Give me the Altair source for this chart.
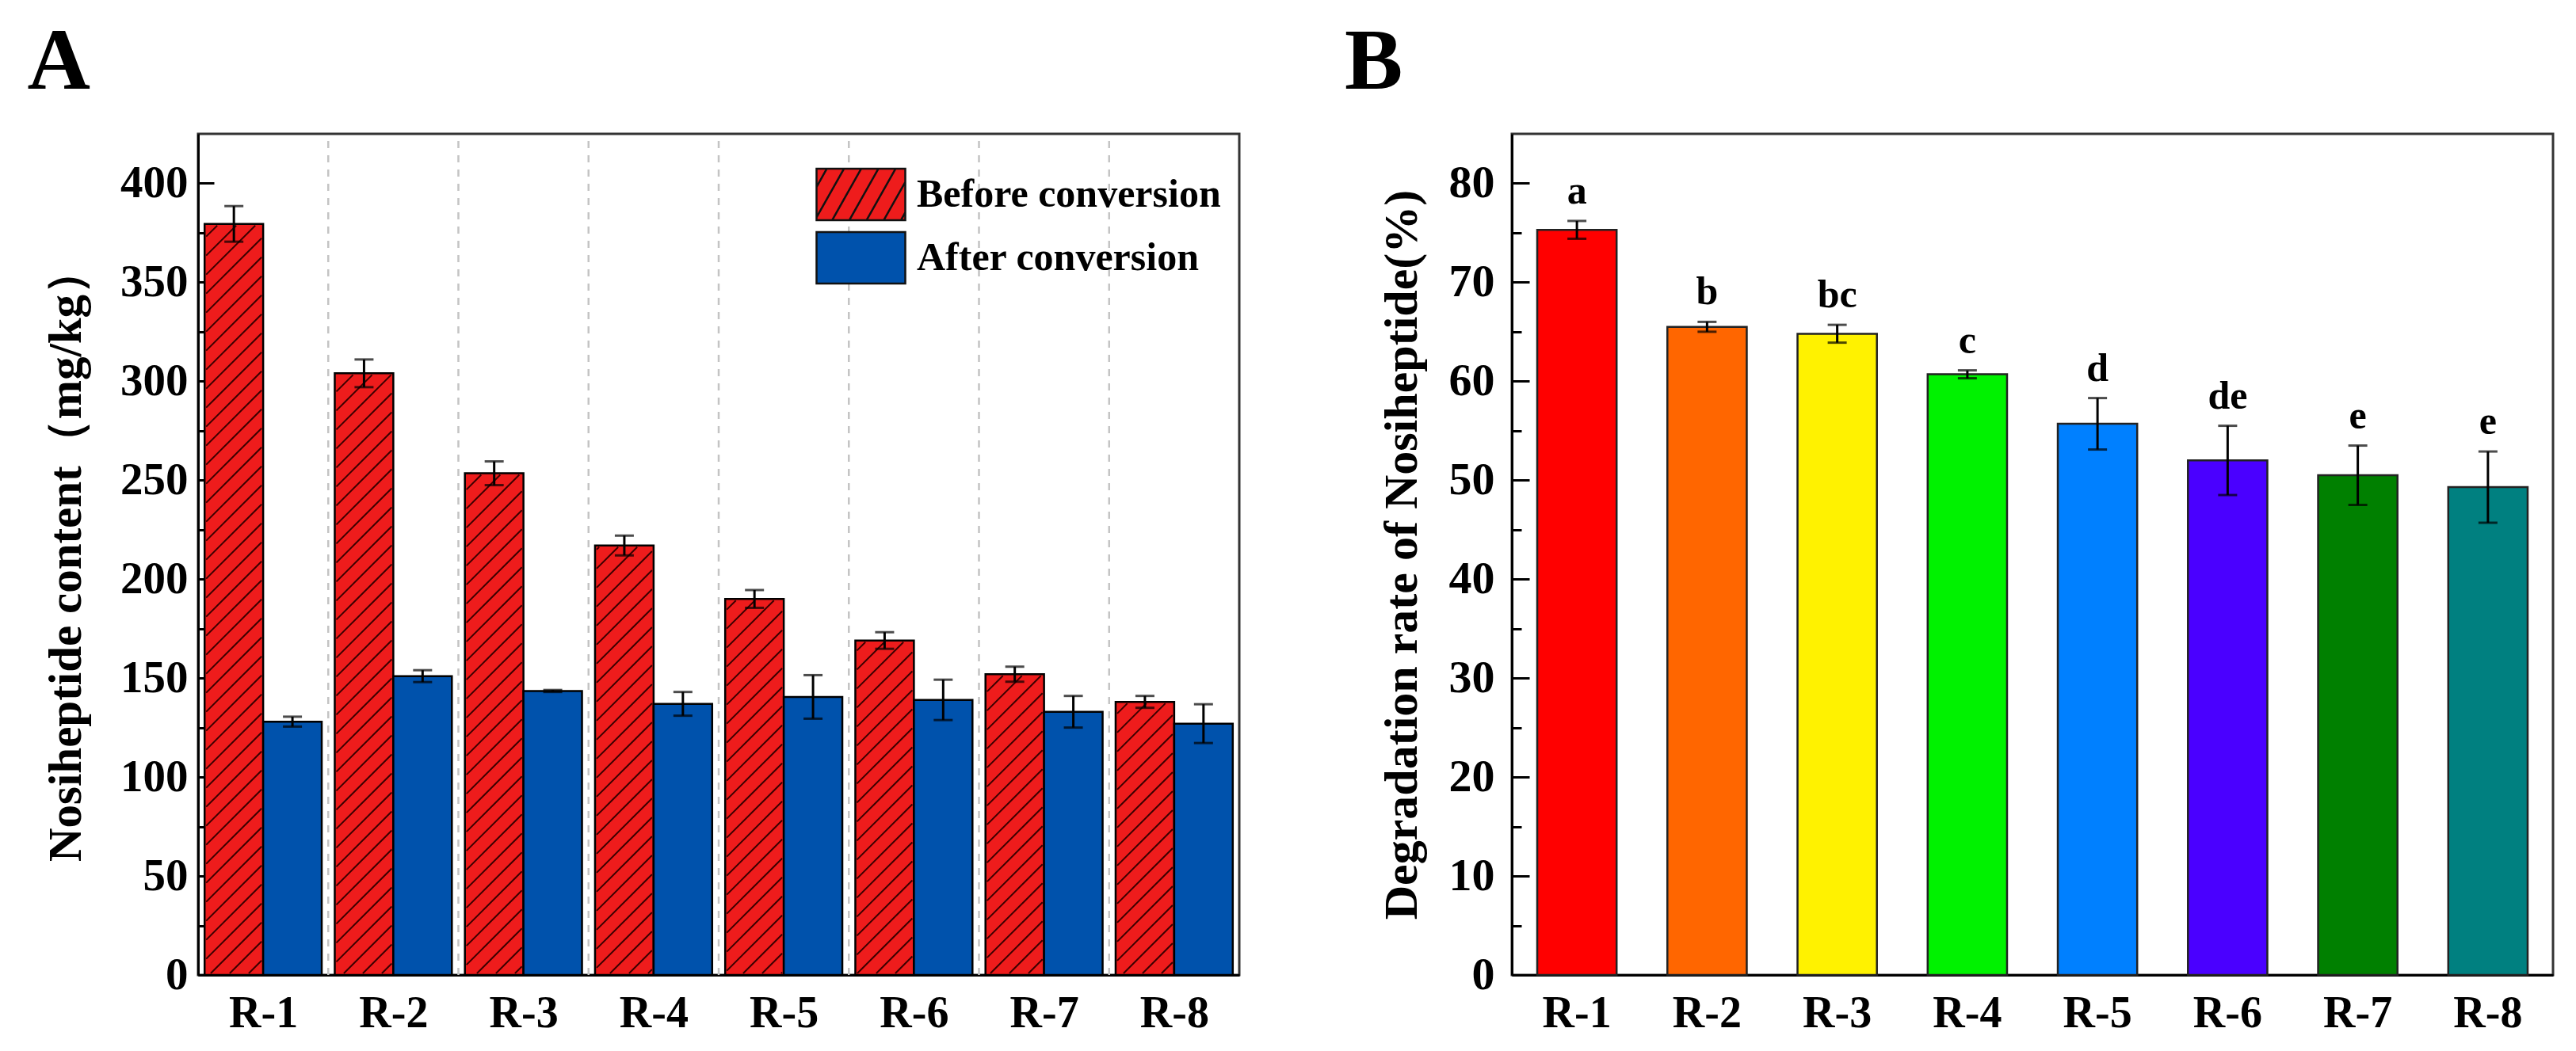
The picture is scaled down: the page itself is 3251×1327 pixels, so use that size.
import json
import math
import altair as alt
import pandas as pd

# ---------------- data ----------------
categories = ["R-1", "R-2", "R-3", "R-4", "R-5", "R-6", "R-7", "R-8"]
series_names = ["Before conversion", "After conversion"]
before = [379.5, 304, 253.5, 217, 190, 169, 152, 138]
before_err = [9, 7, 6, 5, 4.5, 4.2, 3.8, 3.0]
after = [128, 151, 143.5, 137, 140.5, 139, 133, 127]
after_err = [2.5, 3, 0.5, 6, 11, 10.2, 8, 9.8]

degradation = [75.3, 65.5, 64.8, 60.7, 55.7, 52.0, 50.5, 49.3]
degradation_err = [0.9, 0.5, 0.9, 0.4, 2.6, 3.5, 3.0, 3.6]
letters = ["a", "b", "bc", "c", "d", "de", "e", "e"]

series_colors = ["#EE1C1C", "#0052AC"]
bar_colors = ["#FF0000", "#FF6600", "#FFF200", "#00F200",
              "#0080FF", "#4A00FF", "#008000", "#008080"]

FONT = "Liberation Serif"
W, H = 1314, 1062
A_MAX, B_MAX = 425, 85
n = len(categories)
HALF = 0.45

# ---------------- panel A tables ----------------
rowsA = []
for i, cat in enumerate(categories):
    c = i + 1
    for s, vals, errs, left in ((series_names[0], before, before_err, c - HALF),
                                (series_names[1], after, after_err, c)):
        v, e = vals[i], errs[i]
        rowsA.append({"cat": cat, "series": s, "x0": left, "x1": left + HALF,
                      "mid": left + HALF / 2, "value": v, "base": 0,
                      "half": v / 2, "lo": v - e, "hi": v + e})
dfA = pd.DataFrame(rowsA)

# hatch lines (45 degrees on screen) clipped inside each "before" bar
PX_X = W / n
PX_Y = H / A_MAX
GAP = 24.0
INSET = 2.0
hatch = []
for i, v in enumerate(before):
    X0 = (i + 1 - HALF) * PX_X + INSET
    X1 = (i + 1) * PX_X - INSET
    Y0 = INSET
    Y1 = v * PX_Y - INSET
    kmin = math.floor((Y0 - X1) / GAP)
    kmax = math.ceil((Y1 - X0) / GAP)
    for k in range(kmin, kmax + 1):
        cc = k * GAP
        xa = max(X0, Y0 - cc)
        xb = min(X1, Y1 - cc)
        if xb - xa > 1:
            hatch.append({"hx": xa / PX_X, "hx2": xb / PX_X,
                          "hy": (xa + cc) / PX_Y, "hy2": (xb + cc) / PX_Y})
dfH = pd.DataFrame(hatch)
dfSep = pd.DataFrame({"b": [i + 1.5 for i in range(n - 1)]})

# legend symbols: nominal symbol 70 px, path drawn 112 x 65 px
SYM = 70.0
HW = 112 / SYM
HH = 65 / SYM


def hatched_rect_path(hw=HW, hh=HH, run=1.05, step=0.62):
    parts = [f"M{-hw:.3f},{-hh:.3f}L{hw:.3f},{-hh:.3f}L{hw:.3f},{hh:.3f}L{-hw:.3f},{hh:.3f}Z"]
    xb = -hw - run + step * 0.6
    while xb < hw:
        t0 = max(0.0, (-hw - xb) / run)
        t1 = min(1.0, (hw - xb) / run)
        if t1 > t0:
            xa, ya = xb + run * t0, hh - 2 * hh * t0
            xe, ye = xb + run * t1, hh - 2 * hh * t1
            parts.append(f"M{xa:.3f},{ya:.3f}L{xe:.3f},{ye:.3f}")
        xb += step
    return " ".join(parts)


RECT_PATH = f"M{-HW:.3f},{-HH:.3f}L{HW:.3f},{-HH:.3f}L{HW:.3f},{HH:.3f}L{-HW:.3f},{HH:.3f}Z"
HATCH_PATH = hatched_rect_path()

xscaleA = alt.Scale(domain=[0.5, n + 0.5], nice=False, zero=False)
yscaleA = alt.Scale(domain=[0, A_MAX], nice=False, zero=True)
colorA = alt.Scale(domain=series_names, range=series_colors)

xaxisA = alt.Axis(values=list(range(1, n + 1)),
                  labelExpr=f"{json.dumps(categories)}[round(datum.value) - 1]",
                  ticks=False, grid=False, labelFlush=False, title=None,
                  labelFontSize=56, labelPadding=21)
# left axis: labels + title (no ticks)
yaxisA = alt.Axis(values=list(range(0, 401, 50)), ticks=False, grid=False,
                  labelPadding=13, labelFontSize=57, orient="left",
                  title="Nosiheptide content（mg/kg）", titleFontSize=59,
                  titlePadding=38)
# inward ticks: right-oriented axes moved onto the left edge
yticksA_major = alt.Axis(values=list(range(0, 401, 50)), orient="right", offset=-W,
                         labels=False, domain=False, grid=False, title=None,
                         tickSize=20, tickWidth=3, tickColor="black")
yticksA_minor = alt.Axis(values=list(range(25, 401, 50)), orient="right", offset=-W,
                         labels=False, domain=False, grid=False, title=None,
                         tickSize=11, tickWidth=3, tickColor="black")

legendA = alt.Legend(title=None, orient="none", legendX=800, legendY=40,
                     symbolSize=SYM * SYM, rowPadding=3, labelFontSize=50,
                     labelFont=FONT, labelFontWeight="bold", labelColor="black",
                     labelOffset=34, labelLimit=0, symbolStrokeColor="black",
                     symbolStrokeWidth=2.5, symbolOpacity=1)

baseA = alt.Chart(dfA)

sepA = alt.Chart(dfSep).mark_rule(color="#c4c4c4", strokeWidth=2.5,
                                  strokeDash=[9, 9]).encode(
    x=alt.X("b:Q", scale=xscaleA, axis=xaxisA),
    y=alt.YDatum(0, scale=yscaleA, axis=yticksA_major),
    y2=alt.Y2Datum(A_MAX - 3),
)

legend_pts = baseA.mark_point(filled=True, size=30, strokeWidth=2.5).encode(
    x=alt.X("mid:Q", scale=xscaleA, axis=xaxisA),
    y=alt.Y("half:Q", scale=yscaleA, axis=yaxisA),
    fill=alt.Fill("series:N", scale=colorA, legend=legendA),
    stroke=alt.Stroke("series:N",
                      scale=alt.Scale(domain=series_names, range=["#111111", "#111111"]),
                      legend=legendA),
    shape=alt.Shape("series:N",
                    scale=alt.Scale(domain=series_names, range=[HATCH_PATH, RECT_PATH]),
                    legend=legendA),
)

barsA = baseA.mark_rect(stroke="black", strokeWidth=2.5).encode(
    x=alt.X("x0:Q", scale=xscaleA, axis=xaxisA),
    x2="x1:Q",
    y=alt.Y("value:Q", scale=yscaleA, axis=None),
    y2="base:Q",
    color=alt.Color("series:N", scale=colorA, legend=None),
)

hatchA = alt.Chart(dfH).mark_rule(color="#3a0000", strokeWidth=2).encode(
    x=alt.X("hx:Q", scale=xscaleA, axis=xaxisA),
    x2="hx2:Q",
    y=alt.Y("hy:Q", scale=yscaleA, axis=yticksA_minor),
    y2="hy2:Q",
)

errA = baseA.mark_rule(color="black", strokeWidth=3).encode(
    x=alt.X("mid:Q", scale=xscaleA, axis=xaxisA),
    y=alt.Y("lo:Q", scale=yscaleA, axis=None),
    y2="hi:Q",
)
capLoA = baseA.mark_tick(orient="horizontal", size=24, thickness=3, color="black").encode(
    x=alt.X("mid:Q", scale=xscaleA, axis=xaxisA),
    y=alt.Y("lo:Q", scale=yscaleA, axis=None),
)
capHiA = baseA.mark_tick(orient="horizontal", size=24, thickness=3, color="black").encode(
    x=alt.X("mid:Q", scale=xscaleA, axis=xaxisA),
    y=alt.Y("hi:Q", scale=yscaleA, axis=None),
)

panelA = alt.layer(sepA, legend_pts, barsA, hatchA, errA, capLoA, capHiA).resolve_axis(
    y="independent"
).properties(
    width=W, height=H,
    title=alt.TitleParams("A", anchor="start", fontSize=110, font=FONT,
                          fontWeight="bold", color="black", offset=34, dx=-20),
)

# ---------------- panel B ----------------
dfB = pd.DataFrame({
    "cat": categories,
    "value": degradation,
    "lo": [v - e for v, e in zip(degradation, degradation_err)],
    "hi": [v + e for v, e in zip(degradation, degradation_err)],
    "letter": letters,
})

xscaleB = alt.Scale(domain=categories, paddingInner=0.39, paddingOuter=0.195)
yscaleB = alt.Scale(domain=[0, B_MAX], nice=False, zero=True)

xaxisB = alt.Axis(ticks=False, grid=False, title=None, labelAngle=0,
                  labelFontSize=56, labelPadding=21)
yaxisB = alt.Axis(values=list(range(0, 81, 10)), ticks=False, grid=False,
                  labelPadding=22, labelFontSize=58, orient="left",
                  title="Degradation rate of Nosiheptide(%)", titleFontSize=60,
                  titlePadding=28)
yticksB_major = alt.Axis(values=list(range(0, 81, 10)), orient="right", offset=-W,
                         labels=False, domain=False, grid=False, title=None,
                         tickSize=22, tickWidth=3, tickColor="black")
yticksB_minor = alt.Axis(values=list(range(5, 81, 10)), orient="right", offset=-W,
                         labels=False, domain=False, grid=False, title=None,
                         tickSize=12, tickWidth=3, tickColor="black")

xB = alt.X("cat:N", scale=xscaleB, sort=categories, axis=xaxisB)

baseB = alt.Chart(dfB)
barsB = baseB.mark_bar(stroke="#222222", strokeWidth=2.5).encode(
    x=xB,
    y=alt.Y("value:Q", scale=yscaleB, axis=yaxisB),
    color=alt.Color("cat:N", scale=alt.Scale(domain=categories, range=bar_colors),
                    legend=None),
)
errB = baseB.mark_rule(color="black", strokeWidth=3).encode(
    x=xB,
    y=alt.Y("lo:Q", scale=yscaleB, axis=yticksB_major),
    y2="hi:Q",
)
capLoB = baseB.mark_tick(orient="horizontal", size=24, thickness=3, color="black").encode(
    x=xB,
    y=alt.Y("lo:Q", scale=yscaleB, axis=yticksB_minor),
)
capHiB = baseB.mark_tick(orient="horizontal", size=24, thickness=3, color="black").encode(
    x=xB,
    y=alt.Y("hi:Q", scale=yscaleB, axis=None),
)
textB = baseB.mark_text(dy=-12, baseline="bottom", fontSize=50, font=FONT,
                        fontWeight="bold", color="black").encode(
    x=xB,
    y=alt.Y("hi:Q", scale=yscaleB, axis=None),
    text="letter:N",
)

panelB = alt.layer(barsB, errB, capLoB, capHiB, textB).resolve_axis(
    y="independent"
).properties(
    width=W, height=H,
    title=alt.TitleParams("B", anchor="start", fontSize=110, font=FONT,
                          fontWeight="bold", color="black", offset=34, dx=-42),
)

chart = alt.hconcat(panelA, panelB, spacing=129).resolve_scale(
    color="independent", fill="independent", stroke="independent", shape="independent"
).resolve_legend(
    color="independent", fill="independent", stroke="independent", shape="independent"
).configure(
    background="white",
    padding={"left": 25, "top": 14, "right": 5, "bottom": 5},
    font=FONT,
).configure_view(
    stroke="#333333", strokeWidth=3,
).configure_axis(
    labelFont=FONT, labelFontWeight="bold", labelColor="black",
    titleFont=FONT, titleFontWeight="bold", titleColor="black",
    domainColor="black", domainWidth=3, labelOverlap=False,
)

chart.save("out.html", embed_options={"renderer": "svg", "actions": False})
